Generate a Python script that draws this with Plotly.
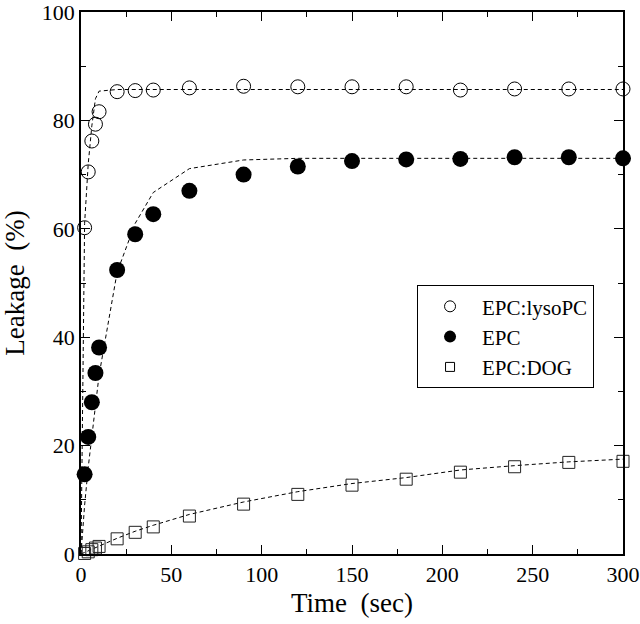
import plotly.graph_objects as go

# time points (sec)
t_lyso = [2, 4, 6, 8, 10, 20, 30, 40, 60, 90, 120, 150, 180, 210, 240, 270, 300]
t_epc = [2, 4, 6, 8, 10, 20, 30, 40, 60, 90, 120, 150, 180, 210, 240, 270, 300]
t_dog = [0, 2, 4, 6, 8, 10, 20, 30, 40, 60, 90, 120, 150, 180, 210, 240, 270, 300]

# measured leakage (%)
leak_lyso = [60.2, 70.5, 76.2, 79.3, 81.6, 85.3, 85.5, 85.6, 86.0, 86.3, 86.2, 86.2, 86.2, 85.6, 85.8, 85.8, 85.8]
leak_epc = [14.7, 21.6, 28.0, 33.4, 38.1, 52.4, 59.0, 62.7, 67.0, 70.0, 71.5, 72.5, 72.8, 72.9, 73.2, 73.2, 73.0]
leak_dog = [-0.4, 0.1, 0.4, 0.8, 1.1, 1.4, 2.8, 4.0, 5.0, 7.0, 9.2, 11.0, 12.7, 13.8, 15.1, 16.1, 16.9, 17.1]

# fitted curves (dashed)
t_fit = [0, 2, 4, 6, 8, 10, 20, 30, 40, 60, 90, 120, 150, 180, 210, 240, 270, 300]
fit_lyso = [0, 61.0, 72.0, 79.0, 84.0, 85.4, 85.7, 85.7, 85.7, 85.7, 85.7, 85.7, 85.7, 85.7, 85.7, 85.7, 85.7, 85.7]
fit_epc = [0, 9.0, 16.0, 22.0, 27.5, 33.0, 52.0, 61.0, 66.7, 71.1, 72.7, 73.0, 73.0, 73.0, 73.0, 73.0, 73.0, 73.0]
fit_dog = [0, 0.3, 0.6, 0.9, 1.2, 1.5, 2.9, 4.2, 5.3, 7.3, 9.6, 11.5, 13.0, 14.1, 15.5, 16.3, 17.0, 17.5]

labels = ["EPC:lysoPC", "EPC", "EPC:DOG"]

SERIF = "Liberation Serif, Times New Roman, serif"
dash_line = dict(color="black", width=1, dash="4px,3px")

fig = go.Figure()

# dashed fit lines
for fit in (fit_lyso, fit_epc, fit_dog):
    fig.add_trace(go.Scatter(x=t_fit, y=fit, mode="lines", line=dash_line,
                             showlegend=False, hoverinfo="skip"))

# data markers
fig.add_trace(go.Scatter(
    x=t_lyso, y=leak_lyso, mode="markers", showlegend=False, cliponaxis=False,
    marker=dict(symbol="circle-open", size=14, color="black", line=dict(width=1)),
))
fig.add_trace(go.Scatter(
    x=t_epc, y=leak_epc, mode="markers", showlegend=False, cliponaxis=False,
    marker=dict(symbol="circle", size=16, color="black"),
))
fig.add_trace(go.Scatter(
    x=t_dog, y=leak_dog, mode="markers", showlegend=False, cliponaxis=False,
    marker=dict(symbol="square-open", size=12, color="#222", line=dict(width=1)),
))

# legend entries (smaller symbols than on the plot)
legend_markers = [
    dict(symbol="circle-open", size=11, color="black", line=dict(width=1)),
    dict(symbol="circle", size=12, color="black"),
    dict(symbol="square-open", size=9, color="black", line=dict(width=1)),
]
for name, mk in zip(labels, legend_markers):
    fig.add_trace(go.Scatter(x=[None], y=[None], mode="markers", name=name, marker=mk))

axis_common = dict(
    showline=True, linecolor="black", linewidth=1.5, mirror="allticks",
    ticks="inside", ticklen=9, tickwidth=1, tickcolor="black",
    showgrid=False, zeroline=False, automargin=False, ticklabeloverflow="allow",
    tickfont=dict(family=SERIF, size=22, color="black"),
)

fig.update_xaxes(
    range=[0, 300], dtick=50,
    minor=dict(dtick=25, ticks="inside", ticklen=5, tickcolor="black"),
    title=dict(text="Time\u00a0 (sec)", font=dict(family=SERIF, size=27, color="black"), standoff=7),
    **axis_common,
)
fig.update_yaxes(
    range=[0, 100], dtick=20,
    minor=dict(dtick=10, ticks="inside", ticklen=5, tickcolor="black"),
    title=dict(text="Leakage\u00a0 (%)", font=dict(family=SERIF, size=27, color="black"), standoff=11),
    **axis_common,
)

fig.update_layout(
    width=640, height=624,
    margin=dict(l=81, r=17, t=12, b=70),
    paper_bgcolor="white", plot_bgcolor="white",
    legend=dict(
        x=0.62, y=0.496, xanchor="left", yanchor="top",
        bgcolor="white", bordercolor="black", borderwidth=1,
        font=dict(family=SERIF, size=21, color="black"),
        itemwidth=54, entrywidth=128,
    ),
)

# the page body has an 8px default margin; drop it so the figure sits at 0,0
fig.write_html("out.html", config={"displayModeBar": False},
               post_script="document.body.style.margin='0px';")
